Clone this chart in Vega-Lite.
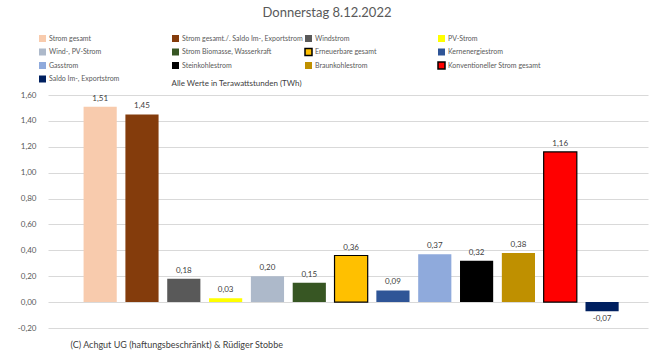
{
  "$schema": "https://vega.github.io/schema/vega-lite/v6.json",
  "autosize": "none",
  "width": 600,
  "height": 233,
  "padding": {"left": 48, "top": 95, "right": 3, "bottom": 30},
  "background": "white",
  "config": {
    "font": "Lato",
    "view": {"stroke": null},
    "locale": {"number": {"decimal": ",", "thousands": ".", "grouping": [3], "currency": ["", " €"], "minus": "-"}},
    "legend": {
      "orient": "none", "direction": "horizontal", "legendX": -10, "legendY": -61, "columns": 4, "gridAlign": "all",
      "symbolType": "square", "symbolSize": 49, "labelFontSize": 7, "labelColor": "#595959",
      "rowPadding": 0.5, "columnPadding": -1, "labelOffset": 2, "symbolStrokeWidth": 1.5, "padding": 0, "labelLimit": 200
    }
  },
  "title": {"text": "Donnerstag 8.12.2022", "fontSize": 13, "fontWeight": "normal", "color": "#595959", "anchor": "middle", "frame": "group", "dx": -21, "offset": 14},
  "data": {"values": [
    {"series": "Strom gesamt", "value": 1.51},
    {"series": "Strom gesamt./. Saldo Im-, Exportstrom", "value": 1.45},
    {"series": "Windstrom", "value": 0.18},
    {"series": "PV-Strom", "value": 0.03},
    {"series": "Wind-, PV-Strom", "value": 0.20},
    {"series": "Strom Biomasse, Wasserkraft", "value": 0.15},
    {"series": "Erneuerbare gesamt", "value": 0.36},
    {"series": "Kernenergiestrom", "value": 0.09},
    {"series": "Gasstrom", "value": 0.37},
    {"series": "Steinkohlestrom", "value": 0.32},
    {"series": "Braunkohlestrom", "value": 0.38},
    {"series": "Konventioneller Strom gesamt", "value": 1.16},
    {"series": "Saldo Im-, Exportstrom", "value": -0.07}
  ]},
  "encoding": {
    "x": {"field": "series", "type": "nominal", "sort": null,
      "scale": {"paddingInner": 0.207, "paddingOuter": 0.776, "align": 0.548},
      "axis": {"labels": false, "ticks": false, "domain": false, "grid": false,
        "title": "(C) Achgut UG (haftungsbeschränkt) & Rüdiger Stobbe",
        "titleX": 22, "titleY": 16, "titleAlign": "left", "titleBaseline": "middle", "titleAnchor": "start",
        "titleFontSize": 9, "titleFontWeight": "normal", "titleColor": "#404040"}},
    "y": {"field": "value", "type": "quantitative",
      "scale": {"domain": [-0.2, 1.6], "nice": false, "zero": false},
      "axis": {"values": [-0.2, 0, 0.2, 0.4, 0.6, 0.8, 1.0, 1.2, 1.4, 1.6], "format": ".2f",
        "grid": true, "gridColor": "#d9d9d9", "domain": false, "ticks": false, "labelPadding": 12,
        "labelFontSize": 8, "labelColor": "#595959",
        "title": "Alle Werte in Terawattstunden (TWh)", "titleAngle": 0, "titleX": 123, "titleY": -12,
        "titleAlign": "left", "titleBaseline": "middle", "titleFontSize": 8, "titleFontWeight": "normal", "titleColor": "#404040"}}
  },
  "layer": [
    {"mark": {"type": "bar", "strokeWidth": 1.2},
     "encoding": {
       "fill": {"field": "series", "type": "nominal", "sort": null, "title": null,
         "scale": {
           "domain": ["Strom gesamt", "Strom gesamt./. Saldo Im-, Exportstrom", "Windstrom", "PV-Strom", "Wind-, PV-Strom", "Strom Biomasse, Wasserkraft", "Erneuerbare gesamt", "Kernenergiestrom", "Gasstrom", "Steinkohlestrom", "Braunkohlestrom", "Konventioneller Strom gesamt", "Saldo Im-, Exportstrom"],
           "range": ["#F8CBAD", "#843C0C", "#595959", "#FFFF00", "#ADB9CA", "#375623", "#FFC000", "#2F5597", "#8FAADC", "#000000", "#BF9000", "#FF0000", "#002060"]}},
       "stroke": {"field": "series", "type": "nominal", "sort": null, "title": null,
         "scale": {
           "domain": ["Strom gesamt", "Strom gesamt./. Saldo Im-, Exportstrom", "Windstrom", "PV-Strom", "Wind-, PV-Strom", "Strom Biomasse, Wasserkraft", "Erneuerbare gesamt", "Kernenergiestrom", "Gasstrom", "Steinkohlestrom", "Braunkohlestrom", "Konventioneller Strom gesamt", "Saldo Im-, Exportstrom"],
           "range": ["transparent", "transparent", "transparent", "transparent", "transparent", "transparent", "#000000", "transparent", "transparent", "transparent", "transparent", "#000000", "transparent"]}}
     }},
    {"transform": [{"filter": "datum.value >= 0"}],
     "mark": {"type": "text", "baseline": "bottom", "dy": -4, "fontSize": 8, "color": "#404040"},
     "encoding": {"text": {"field": "value", "type": "quantitative", "format": ".2f"}}},
    {"transform": [{"filter": "datum.value < 0"}],
     "mark": {"type": "text", "baseline": "top", "dy": 4, "fontSize": 8, "color": "#404040"},
     "encoding": {"text": {"field": "value", "type": "quantitative", "format": ".2f"}}}
  ]
}
